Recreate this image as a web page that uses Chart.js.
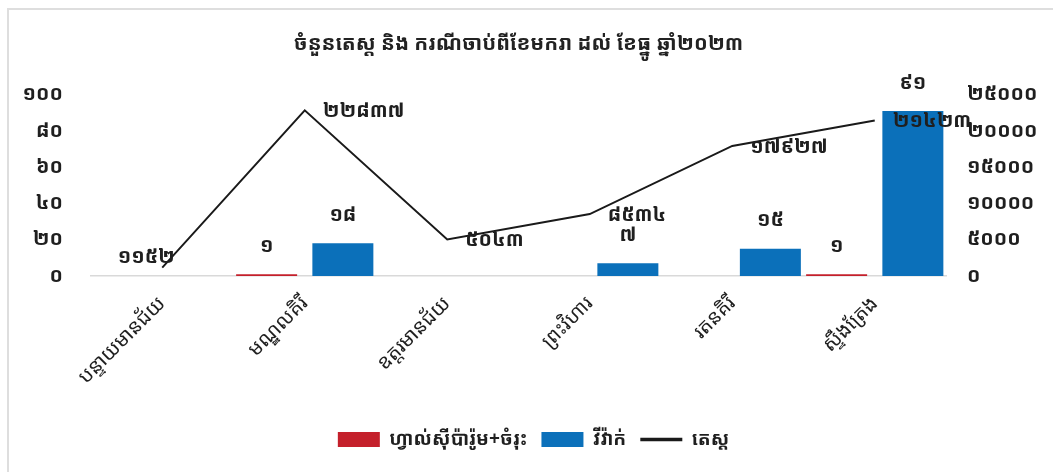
<!DOCTYPE html>
<html>
<head>
<meta charset="utf-8">
<script src="https://cdn.jsdelivr.net/npm/chart.js@4.4.1/dist/chart.umd.min.js"></script>
<style>
  html, body { margin: 0; padding: 0; background: #ffffff; }
  #wrap { position: relative; width: 1053px; height: 472px; overflow: hidden; }
  #frame { position: absolute; left: 7px; top: 8px; width: 1200px; height: 600px;
           border-top: 2px solid #dedede; border-left: 2px solid #dedede; }
  #c { position: absolute; left: 0; top: 0; }
</style>
</head>
<body>
<div id="wrap">
  <div id="frame"></div>
  <canvas id="c" width="1053" height="472"></canvas>
</div>
<script>
// Provinces along the x axis
const provinces = ['បន្ទាយមានជ័យ', 'មណ្ឌលគិរី', 'ឧត្តរមានជ័យ', 'ព្រះវិហារ', 'រតនគិរី', 'ស្ទឹងត្រែង'];
// Falciparum + mixed cases (left axis)
const falciparumMixed = [null, 1, null, null, null, 1];
// Vivax cases (left axis)
const vivax = [null, 18, null, 7, 15, 91];
// Number of tests (right axis)
const tests = [1152, 22837, 5043, 8534, 17927, 21423];

const seriesNames = ['ហ្វាល់ស៊ីប៉ារ៉ូម+ចំរុះ', 'វីវ៉ាក់', 'តេស្ត'];
const chartTitle = 'ចំនួនតេស្ត និង ករណីចាប់ពីខែមករា ដល់ ខែធ្នូ ឆ្នាំ២០២៣';

const KHMER_FONT = '"Noto Sans Khmer", "Khmer OS", "Khmer OS System", "Noto Serif Khmer", "Noto Sans", sans-serif';
const KH_DIGITS = '០១២៣៤៥៦៧៨៩';
function khmerNum(n) {
  return String(n).replace(/[0-9]/g, d => KH_DIGITS[+d]);
}

// Writes the value of each bar above it and each test count beside its point
const valueLabels = {
  id: 'valueLabels',
  afterDatasetsDraw(chart) {
    const ctx = chart.ctx;
    ctx.save();
    ctx.fillStyle = '#1f1f1f';
    ctx.font = 'bold 20px ' + KHMER_FONT;
    chart.data.datasets.forEach((ds, di) => {
      const meta = chart.getDatasetMeta(di);
      meta.data.forEach((el, i) => {
        const v = ds.data[i];
        if (v === null || v === undefined) return;
        const txt = khmerNum(v);
        ctx.textBaseline = 'middle';
        if (ds.type === 'line') {
          if (i === 0) {
            ctx.textAlign = 'center';
            ctx.fillText(txt, el.x - 16, el.y - 10);
          } else {
            ctx.textAlign = 'left';
            ctx.fillText(txt, el.x + 18, el.y + 1);
          }
        } else {
          ctx.textAlign = 'center';
          ctx.fillText(txt, el.x, el.y - 28);
        }
      });
    });
    ctx.restore();
  }
};

new Chart(document.getElementById('c'), {
  data: {
    labels: provinces,
    datasets: [
      {
        type: 'bar', label: seriesNames[0], data: falciparumMixed, yAxisID: 'y',
        backgroundColor: '#c4202b', pointStyle: 'rect',
        categoryPercentage: 1.07, barPercentage: 0.8
      },
      {
        type: 'bar', label: seriesNames[1], data: vivax, yAxisID: 'y',
        backgroundColor: '#0b70ba', pointStyle: 'rect',
        categoryPercentage: 1.07, barPercentage: 0.8
      },
      {
        type: 'line', label: seriesNames[2], data: tests, yAxisID: 'y1',
        borderColor: '#1a1a1a', backgroundColor: '#1a1a1a', borderWidth: 2,
        pointRadius: 0, pointHoverRadius: 0, pointStyle: 'line', tension: 0
      }
    ]
  },
  options: {
    responsive: false,
    animation: false,
    layout: { padding: { left: 14, right: 0, top: 0, bottom: 13 } },
    plugins: {
      title: {
        display: true, text: chartTitle, color: '#222222', fullSize: false,
        font: { family: KHMER_FONT, size: 20.5, weight: 'bold' },
        padding: { top: 32, bottom: 38 }
      },
      legend: {
        position: 'bottom',
        labels: {
          usePointStyle: true, pointStyleWidth: 42, boxHeight: 15,
          color: '#1f1f1f', padding: 14,
          sort: (a, b) => a.datasetIndex - b.datasetIndex,
          font: { family: KHMER_FONT, size: 19, weight: 'bold' },
          generateLabels(chart) {
            const items = Chart.defaults.plugins.legend.labels.generateLabels(chart);
            items.forEach(it => {
              if (chart.data.datasets[it.datasetIndex].type === 'line') it.lineWidth = 3.5;
            });
            return items;
          }
        }
      },
      tooltip: { enabled: false }
    },
    scales: {
      x: {
        offset: true,
        grid: { display: false },
        border: { display: true, color: '#d9d9d9', width: 1.5 },
        ticks: {
          color: '#1f1f1f', minRotation: 45, maxRotation: 45, padding: 8,
          font: { family: KHMER_FONT, size: 20 }
        },
        afterFit(s) { s.height = 140; }
      },
      y: {
        position: 'left', min: 0, max: 100,
        grid: { display: false }, border: { display: false },
        ticks: {
          stepSize: 20, color: '#1f1f1f', padding: 20,
          font: { family: KHMER_FONT, size: 20, weight: 'bold' },
          callback: v => khmerNum(v)
        },
        afterFit(s) { s.width = 77; }
      },
      y1: {
        position: 'right', min: 0, max: 25000,
        grid: { display: false }, border: { display: false },
        ticks: {
          stepSize: 5000, color: '#1f1f1f', padding: 13,
          font: { family: KHMER_FONT, size: 20, weight: 'bold' },
          callback: v => khmerNum(v)
        },
        afterFit(s) { s.width = 107; }
      }
    }
  },
  plugins: [valueLabels]
});
</script>
</body>
</html>
